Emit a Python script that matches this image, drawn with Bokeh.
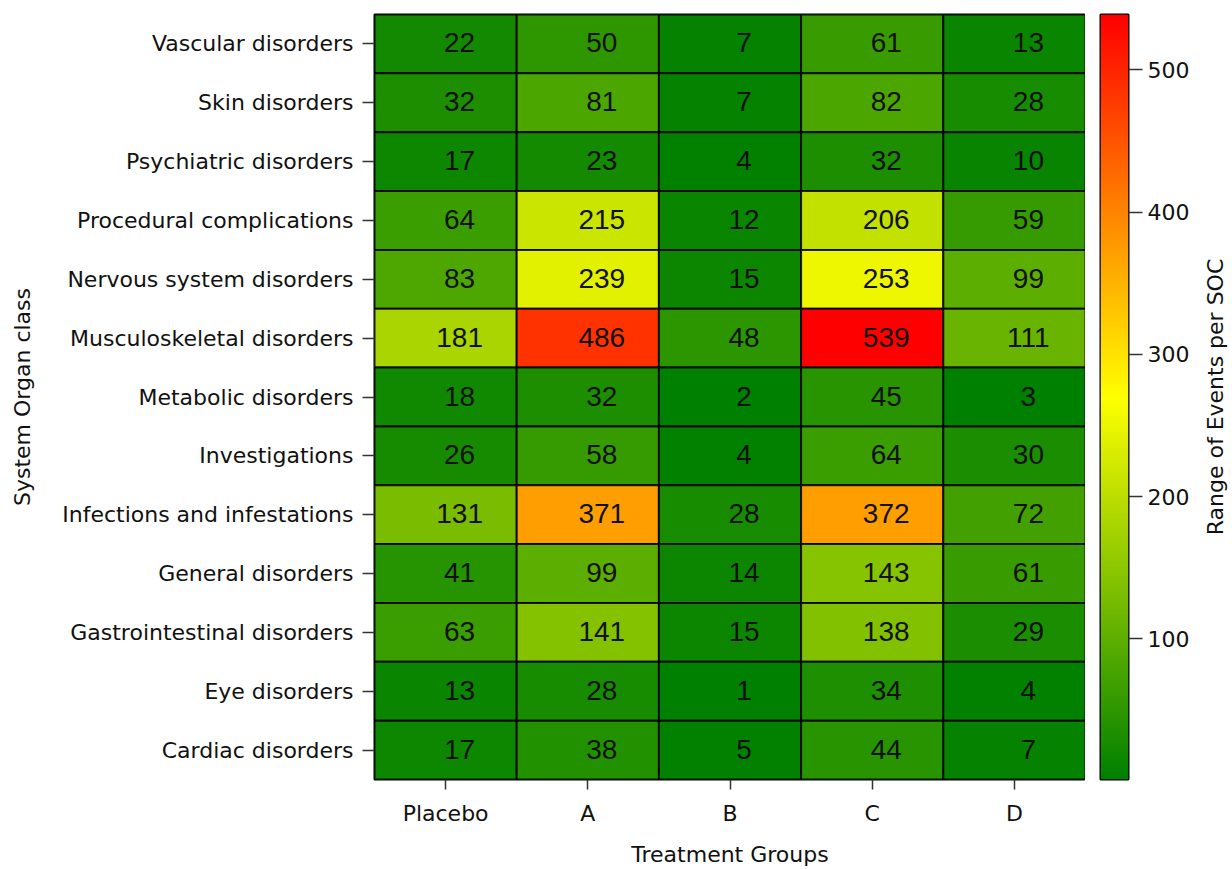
import numpy as np
from bokeh.plotting import figure
from bokeh.models import ColumnDataSource, LinearColorMapper, Range1d, FactorRange, FixedTicker
from bokeh.layouts import row
from bokeh.transform import transform
from bokeh.core.properties import value
from bokeh.embed import file_html
from bokeh.resources import INLINE

groups = ["Placebo", "A", "B", "C", "D"]
socs = ["Vascular disorders", "Skin disorders", "Psychiatric disorders",
        "Procedural complications", "Nervous system disorders",
        "Musculoskeletal disorders", "Metabolic disorders", "Investigations",
        "Infections and infestations", "General disorders",
        "Gastrointestinal disorders", "Eye disorders", "Cardiac disorders"]
placebo = [22, 32, 17, 64, 83, 181, 18, 26, 131, 41, 63, 13, 17]
grp_a = [50, 81, 23, 215, 239, 486, 32, 58, 371, 99, 141, 28, 38]
grp_b = [7, 7, 4, 12, 15, 48, 2, 4, 28, 14, 15, 1, 5]
grp_c = [61, 82, 32, 206, 253, 539, 45, 64, 372, 143, 138, 34, 44]
grp_d = [13, 28, 10, 59, 99, 111, 3, 30, 72, 61, 29, 4, 7]
cbar_ticks = [100, 200, 300, 400, 500]
x_title = "Treatment Groups"
y_title = "System Organ class"
cbar_title = "Range of Events per SOC"

series = [placebo, grp_a, grp_b, grp_c, grp_d]
xs, ys, vals = [], [], []
for g, s in zip(groups, series):
    for soc, v in zip(socs, s):
        xs.append(g); ys.append(soc); vals.append(v)
src = ColumnDataSource(dict(group=xs, soc=ys, count=vals, label=[str(v) for v in vals]))


def ramp(n):
    stops = [(0, 128, 0), (255, 255, 0), (255, 0, 0)]
    cols = []
    for i in range(n):
        t = i / (n - 1) * 2
        k = min(int(t), 1)
        f = t - k
        c = [round(stops[k][j] + (stops[k + 1][j] - stops[k][j]) * f) for j in range(3)]
        cols.append("#%02x%02x%02x" % tuple(c))
    return cols


pal = ramp(256)
lo, hi = min(vals), max(vals)
mapper = LinearColorMapper(palette=pal, low=lo, high=hi)

LABEL_FONT = "DejaVu Sans"
FS = "22px"
H = 869

p = figure(width=1085, height=H,
           x_range=FactorRange(factors=groups), y_range=FactorRange(factors=socs[::-1]),
           output_backend="svg", toolbar_location=None,
           min_border_left=374, min_border_right=0, min_border_top=13, min_border_bottom=89)
p.rect(x="group", y="soc", width=1, height=1, source=src,
       fill_color=transform("count", mapper), line_color="black", line_width=2, line_alpha=0.85)
p.text(x="group", y="soc", text="label", source=src, text_align="center", text_baseline="middle",
       x_offset=14, y_offset=-1, text_font=value("Liberation Sans"), text_font_size="28px",
       text_color="#111111")

p.grid.grid_line_color = None
p.outline_line_color = "black"
p.outline_line_width = 2
for ax in (p.xaxis[0], p.yaxis[0]):
    ax.axis_line_color = None
    ax.major_tick_in = 0
    ax.major_tick_line_color = "#333333"
    ax.major_tick_line_width = 1.5
    ax.major_label_text_font = LABEL_FONT
    ax.major_label_text_font_size = FS
    ax.major_label_text_color = "#111111"
    ax.axis_label_text_font = LABEL_FONT
    ax.axis_label_text_font_size = FS
    ax.axis_label_text_font_style = "normal"
    ax.axis_label_text_color = "#111111"
p.xaxis.major_tick_out = 10
p.xaxis.major_label_standoff = 11
p.xaxis.axis_label = x_title
p.xaxis.axis_label_standoff = 13
p.yaxis.major_tick_out = 12
p.yaxis.major_label_standoff = 9
p.yaxis.axis_label = y_title
p.yaxis.axis_label_standoff = 24

# colour bar
cb = figure(width=107, height=H, x_range=Range1d(0, 1), y_range=Range1d(lo, hi),
            output_backend="svg", toolbar_location=None, y_axis_location="right",
            x_axis_location=None,
            min_border_left=15, min_border_right=62, min_border_top=14, min_border_bottom=89)
grad = np.linspace(lo, hi, 512).reshape(-1, 1)
cb.image(image=[grad], x=0, y=lo, dw=1, dh=hi - lo, color_mapper=mapper)
cb.grid.grid_line_color = None
cb.outline_line_color = "black"
cb.outline_line_width = 2
cb.yaxis.ticker = FixedTicker(ticks=cbar_ticks)
cb.yaxis.axis_line_color = None
cb.yaxis.major_tick_in = 0
cb.yaxis.major_tick_out = 14
cb.yaxis.minor_tick_line_color = None
cb.yaxis.major_tick_line_color = "#333333"
cb.yaxis.major_tick_line_width = 1.5
cb.yaxis.major_label_standoff = 5
cb.yaxis.major_label_text_font = LABEL_FONT
cb.yaxis.major_label_text_font_size = FS
cb.yaxis.major_label_text_color = "#111111"

# colour bar title
tf = figure(width=40, height=H, x_range=Range1d(0, 1), y_range=Range1d(0, 1),
            output_backend="svg", toolbar_location=None,
            x_axis_location=None, y_axis_location=None,
            min_border_left=0, min_border_right=0, min_border_top=13, min_border_bottom=89)
tf.grid.grid_line_color = None
tf.outline_line_color = None
tf.text(x=[0.575], y=[0.5], text=[cbar_title], angle=np.pi / 2, text_align="center",
        text_baseline="middle", text_font=value(LABEL_FONT), text_font_size=FS,
        text_color="#111111")

layout = row(p, cb, tf)
open("out.html", "w").write(file_html(layout, INLINE))
